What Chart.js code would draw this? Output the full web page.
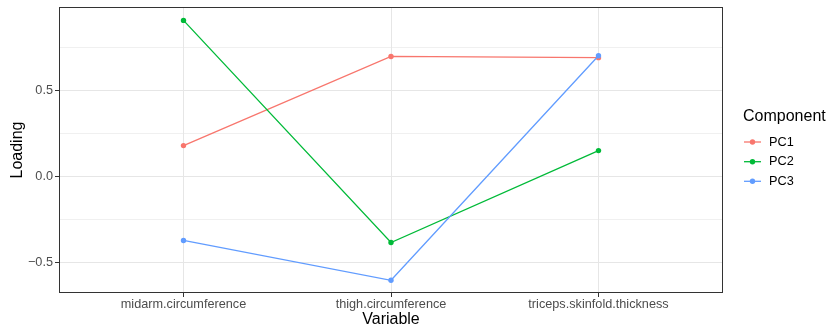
<!DOCTYPE html>
<html>
<head>
<meta charset="utf-8">
<script src="https://cdn.jsdelivr.net/npm/chart.js@4.4.0/dist/chart.umd.min.js"></script>
<style>
  html, body { margin: 0; padding: 0; background: #fff; }
  #chart { display: block; }
</style>
</head>
<body>
<canvas id="chart" width="828" height="327"></canvas>
<script>
const categories = ['midarm.circumference', 'thigh.circumference', 'triceps.skinfold.thickness'];
const components = ['PC1', 'PC2', 'PC3'];
const pc1 = [0.181, 0.700, 0.693];
const pc2 = [0.910, -0.383, 0.152];
const pc3 = [-0.371, -0.603, 0.704];
const yMajorTicks = [-0.5, 0, 0.5];
const yMinorTicks = [-0.25, 0.25, 0.75];
const colors = ['#F8766D', '#00BA38', '#619CFF'];

const FONT = "'Liberation Sans', Arial, Helvetica, sans-serif";
const series = [pc1, pc2, pc3];

const toPoints = (vals) => vals.map((v, i) => ({ x: i + 1, y: v }));

const datasets = series.map((vals, i) => ({
    label: components[i],
    data: toPoints(vals),
    borderColor: colors[i],
    backgroundColor: colors[i],
    borderWidth: 1.3,
    pointRadius: 2.7,
    pointBorderWidth: 0,
    pointHoverRadius: 2.7,
    tension: 0,
    order: 3 - i
}));

const isMajor = (v) => yMajorTicks.some(t => Math.abs(t - v) < 1e-9);
const fmt = (v) => {
    const s = Math.abs(v).toFixed(1);
    return v < -1e-9 ? '\u2212' + s : s;
};

// panel border + legend, ggplot style
const panelPlugin = {
    id: 'panel',
    afterDatasetsDraw (chart) {
        const { ctx, chartArea: a } = chart;
        ctx.save();
        ctx.strokeStyle = '#333333';
        ctx.lineWidth = 1;
        ctx.strokeRect(a.left + 0.5, a.top + 0.5, a.right - a.left - 1, a.bottom - a.top - 1);
        ctx.restore();
    },
    afterDraw (chart) {
        const { ctx } = chart;
        ctx.save();
        ctx.fillStyle = '#000';
        ctx.textBaseline = 'middle';
        ctx.textAlign = 'left';
        ctx.font = '16px ' + FONT;
        ctx.fillText('Component', 743, 117);
        ctx.font = '12.7px ' + FONT;
        const rows = [142, 161.7, 181.3];
        chart.data.datasets.forEach((ds, i) => {
            const y = rows[i];
            ctx.strokeStyle = ds.borderColor;
            ctx.lineWidth = 1.3;
            ctx.beginPath();
            ctx.moveTo(744, y);
            ctx.lineTo(761, y);
            ctx.stroke();
            ctx.fillStyle = ds.backgroundColor;
            ctx.beginPath();
            ctx.arc(752.5, y, 2.7, 0, Math.PI * 2);
            ctx.fill();
            ctx.fillStyle = '#000';
            ctx.fillText(ds.label, 769, y);
        });
        ctx.restore();
    }
};

new Chart(document.getElementById('chart'), {
    type: 'line',
    data: { datasets },
    plugins: [panelPlugin],
    options: {
        responsive: false,
        animation: false,
        devicePixelRatio: 1,
        layout: { padding: { left: 0, top: 7, right: 105, bottom: 0 } },
        plugins: {
            legend: { display: false },
            tooltip: { enabled: false }
        },
        scales: {
            x: {
                type: 'linear',
                min: 0.4,
                max: 3.6,
                afterBuildTicks: (scale) => { scale.ticks = categories.map((c, i) => ({ value: i + 1 })); },
                afterFit: (scale) => {
                    scale.height = 34;
                    scale.paddingLeft = 0;
                    scale.paddingRight = 0;
                },
                border: { display: false },
                grid: {
                    color: '#E6E6E6',
                    lineWidth: 1,
                    tickColor: '#333333',
                    tickLength: 4,
                    drawTicks: true
                },
                ticks: {
                    autoSkip: false,
                    maxRotation: 0,
                    padding: 0,
                    color: '#4D4D4D',
                    font: { family: FONT, size: 12.7 },
                    callback: (v) => categories[Math.round(v) - 1]
                },
                title: {
                    display: true,
                    text: 'Variable',
                    color: '#000',
                    font: { family: FONT, size: 16, lineHeight: 0.95 },
                    padding: { top: 0, bottom: 0 }
                }
            },
            y: {
                type: 'linear',
                min: -0.677,
                max: 0.988,
                afterBuildTicks: (scale) => {
                    scale.ticks = yMajorTicks.concat(yMinorTicks).sort((a, b) => a - b).map(v => ({ value: v }));
                },
                afterFit: (scale) => {
                    scale.width = 59;
                    scale.paddingTop = 0;
                    scale.paddingBottom = 0;
                },
                border: { display: false },
                grid: {
                    color: '#E6E6E6',
                    lineWidth: (c) => (c.tick && isMajor(c.tick.value) ? 1 : 0.6),
                    tickColor: (c) => (c.tick && isMajor(c.tick.value) ? '#333333' : 'rgba(0,0,0,0)'),
                    tickLength: 4,
                    drawTicks: true
                },
                ticks: {
                    autoSkip: false,
                    padding: 2,
                    color: '#4D4D4D',
                    font: { family: FONT, size: 12.7 },
                    callback: (v) => (isMajor(v) ? fmt(v) : '')
                },
                title: {
                    display: true,
                    text: 'Loading',
                    color: '#000',
                    font: { family: FONT, size: 16 },
                    padding: { top: 8, bottom: 0 }
                }
            }
        }
    }
});
</script>
</body>
</html>
